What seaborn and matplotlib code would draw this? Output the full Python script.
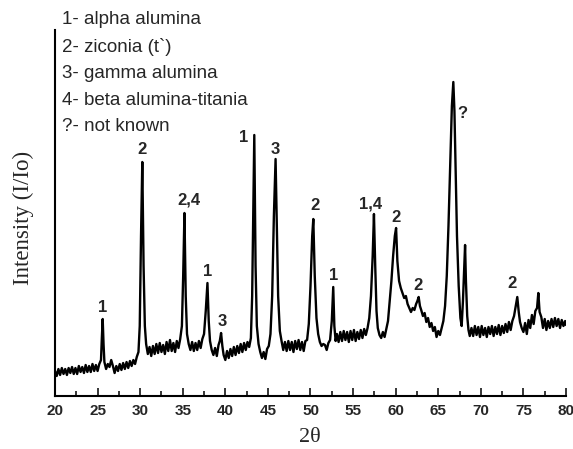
import numpy as np
import pandas as pd
import seaborn as sns
import matplotlib
matplotlib.use("Agg")
import matplotlib.pyplot as plt

# diffractogram (intensity in arbitrary units)
two_theta = [
    20.0, 20.2, 20.4, 20.6, 20.8, 21.0, 21.2, 21.4, 21.6, 21.8,
    22.0, 22.2, 22.4, 22.6, 22.8, 23.0, 23.2, 23.4, 23.6, 23.8,
    24.0, 24.2, 24.4, 24.6, 24.8, 25.0, 25.2, 25.4, 25.5, 25.6,
    25.7, 25.8, 26.0, 26.2, 26.4, 26.6, 26.8, 27.0, 27.2, 27.4,
    27.6, 27.8, 28.0, 28.2, 28.4, 28.6, 28.8, 29.0, 29.2, 29.4,
    29.6, 29.8, 29.95, 30.1, 30.25, 30.4, 30.55, 30.7, 30.9, 31.1,
    31.3, 31.5, 31.7, 31.9, 32.1, 32.3, 32.5, 32.7, 32.9, 33.1,
    33.3, 33.5, 33.7, 33.9, 34.1, 34.3, 34.5, 34.7, 34.9, 35.05,
    35.2, 35.35, 35.5, 35.7, 35.9, 36.1, 36.3, 36.5, 36.7, 36.9,
    37.1, 37.3, 37.5, 37.7, 37.9, 38.05, 38.2, 38.4, 38.6, 38.8,
    39.0, 39.2, 39.35, 39.5, 39.65, 39.8, 40.0, 40.2, 40.4, 40.6,
    40.8, 41.0, 41.2, 41.4, 41.6, 41.8, 42.0, 42.2, 42.4, 42.6,
    42.8, 43.0, 43.15, 43.3, 43.4, 43.55, 43.7, 43.9, 44.1, 44.3,
    44.5, 44.7, 44.9, 45.1, 45.3, 45.5, 45.7, 45.9, 46.05, 46.2,
    46.4, 46.6, 46.8, 47.0, 47.2, 47.4, 47.6, 47.8, 48.0, 48.2,
    48.4, 48.6, 48.8, 49.0, 49.2, 49.4, 49.6, 49.8, 50.0, 50.2,
    50.33, 50.5, 50.7, 50.9, 51.1, 51.3, 51.5, 51.7, 51.9, 52.1,
    52.3, 52.5, 52.67, 52.8, 52.95, 53.1, 53.3, 53.5, 53.7, 53.9,
    54.1, 54.3, 54.5, 54.7, 54.9, 55.1, 55.3, 55.5, 55.7, 55.9,
    56.1, 56.3, 56.5, 56.7, 56.9, 57.1, 57.3, 57.45, 57.6, 57.75,
    57.9, 58.1, 58.3, 58.5, 58.7, 58.9, 59.1, 59.3, 59.5, 59.7,
    59.9, 60.05, 60.2, 60.4, 60.6, 60.8, 61.0, 61.2, 61.4, 61.6,
    61.8, 62.0, 62.2, 62.4, 62.55, 62.7, 62.85, 63.0, 63.2, 63.4,
    63.6, 63.8, 64.0, 64.2, 64.4, 64.6, 64.8, 65.0, 65.2, 65.4,
    65.6, 65.8, 66.0, 66.2, 66.4, 66.6, 66.77, 66.9, 67.05, 67.2,
    67.4, 67.6, 67.75, 67.9, 68.05, 68.15, 68.25, 68.4, 68.55, 68.7,
    68.9, 69.1, 69.3, 69.5, 69.7, 69.9, 70.1, 70.3, 70.5, 70.7,
    70.9, 71.1, 71.3, 71.5, 71.7, 71.9, 72.1, 72.3, 72.5, 72.7,
    72.9, 73.1, 73.3, 73.5, 73.7, 73.9, 74.1, 74.28, 74.45, 74.6,
    74.8, 75.0, 75.2, 75.4, 75.6, 75.8, 76.0, 76.2, 76.4, 76.6,
    76.75, 76.9, 77.1, 77.3, 77.5, 77.7, 77.9, 78.1, 78.3, 78.5,
    78.7, 78.9, 79.1, 79.3, 79.5, 79.7, 79.9, 80.0,
]
intensity = [
    25, 20, 27, 21, 28, 22, 27, 21, 28, 23,
    29, 22, 28, 22, 30, 24, 29, 23, 31, 24,
    30, 24, 32, 25, 31, 25, 32, 36, 58, 77,
    52, 34, 27, 32, 29, 36, 30, 23, 30, 25,
    32, 26, 33, 27, 34, 28, 35, 30, 36, 32,
    39, 44, 70, 160, 234, 130, 70, 52, 42, 49,
    40, 50, 42, 52, 43, 53, 44, 51, 42, 54,
    45, 56, 45, 53, 44, 55, 48, 57, 70, 120,
    183, 100, 62, 52, 46, 54, 45, 53, 46, 55,
    48, 57, 62, 85, 113, 75, 55, 46, 41, 48,
    40, 51, 55, 63, 50, 41, 36, 45, 38, 47,
    40, 49, 41, 50, 43, 52, 44, 53, 46, 54,
    49, 58, 100, 200, 261, 130, 70, 52, 44, 38,
    44, 37, 47, 50, 62, 100, 180, 237, 170, 100,
    65, 55, 46, 54, 45, 55, 46, 54, 44, 55,
    47, 56, 46, 54, 45, 55, 56, 72, 110, 160,
    177, 120, 78, 62, 54, 50, 52, 51, 46, 53,
    56, 75, 109, 70, 55, 62, 54, 64, 55, 65,
    56, 64, 54, 65, 56, 66, 55, 64, 57, 66,
    58, 67, 61, 68, 78, 100, 140, 182, 130, 85,
    68, 61, 58, 64, 59, 67, 75, 95, 115, 140,
    160, 168, 135, 115, 108, 103, 98, 100, 92, 88,
    84, 88, 86, 92, 95, 99, 90, 86, 80, 83,
    74, 78, 69, 73, 65, 69, 59, 65, 61, 68,
    75, 90, 120, 170, 230, 290, 314, 285, 220, 160,
    110, 78, 70, 95, 130, 151, 115, 80, 66, 60,
    68, 60, 70, 61, 69, 59, 70, 61, 68, 59,
    69, 62, 70, 60, 69, 62, 71, 61, 70, 63,
    72, 64, 74, 66, 75, 80, 90, 99, 84, 74,
    68, 64, 73, 62, 76, 68, 81, 72, 85, 88,
    103, 84, 79, 68, 77, 66, 75, 68, 77, 69,
    78, 70, 77, 68, 76, 70, 75, 71,
]

# phase labels above the peaks
peak_labels = ["1", "2", "2,4", "1", "3", "1", "3", "2", "1", "1,4", "2", "2", "?", "2"]
label_x = [25.6, 30.25, 35.75, 37.9, 39.6, 42.2, 45.9, 50.5, 52.67, 57.07, 60.04, 62.66, 67.87, 73.7]
label_y = [89, 247, 196, 124, 74, 259, 246, 191, 121, 192, 179, 111, 283, 113]

legend_lines = [
    "1- alpha alumina",
    "2- ziconia (t`)",
    "3- gamma alumina",
    "4- beta alumina-titania",
    "?- not known",
]

df = pd.DataFrame({"two_theta": two_theta, "intensity": intensity})

sns.set_style("ticks")
plt.rcParams["font.family"] = ["Liberation Sans", "DejaVu Sans"]

fig = plt.figure(figsize=(5.73, 4.49), dpi=100)
ax = fig.add_axes([55 / 573, 53 / 449, 511 / 573, 366 / 449])

sns.lineplot(data=df, x="two_theta", y="intensity", ax=ax, color="black",
             linewidth=1.7, estimator=None, sort=False)

ax.set_xlim(20, 80)
ax.set_ylim(0, 366)
ax.set_xticks(np.arange(20, 81, 5))
ax.set_xticks(np.arange(22.5, 80, 5), minor=True)
ax.set_yticks([])
ax.tick_params(axis="x", which="major", direction="in", length=6, width=1.3,
               labelsize=11, pad=6)
ax.tick_params(axis="x", which="minor", direction="in", length=3.5, width=1.3)
for lbl in ax.get_xticklabels():
    lbl.set_fontweight("bold")
sns.despine(ax=ax, top=True, right=True)
for side in ["left", "bottom"]:
    ax.spines[side].set_linewidth(1.5)
    ax.spines[side].set_color("black")
ax.set_xlabel("")
ax.set_ylabel("")

for txt, x, y in zip(peak_labels, label_x, label_y):
    ax.text(x, y, txt, ha="center", va="center", fontsize=12, fontweight="bold")

for i, line in enumerate(legend_lines):
    fig.text(62 / 573, 1 - (20 + 26.7 * i) / 449, line, ha="left", va="center", fontsize=13.5)

fig.text(23 / 573, 1 - 218 / 449, "Intensity (I/Io)", rotation=90, ha="center", va="center",
         fontsize=16.5, family="Liberation Serif")
fig.text(310 / 573, 1 - 437 / 449, "2θ", ha="center", va="center",
         fontsize=16, family="Liberation Serif")

fig.savefig("out.png", dpi=100)
